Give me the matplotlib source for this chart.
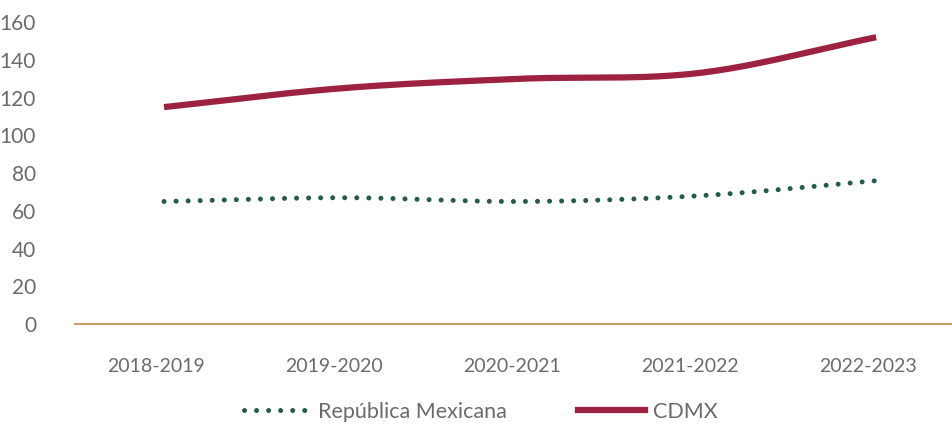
import numpy as np
import matplotlib
matplotlib.use("Agg")
import matplotlib.pyplot as plt
import matplotlib.transforms as mtransforms
from matplotlib.lines import Line2D

periods = ["2018-2019", "2019-2020", "2020-2021", "2021-2022", "2022-2023"]
rep_mex = [65, 67, 65, 68, 76]
cdmx = [115, 125, 130, 133, 152]

green = "#235B4E"
red = "#9D2242"
gold = "#C9A06C"
grey = "#6b6b6b"

plt.rcParams["font.family"] = ["Lato", "DejaVu Sans"]


def smooth(xs, ys, n=40):
    # Catmull-Rom curve through the points (like a spreadsheet "smoothed line")
    xs = np.asarray(xs, float)
    ys = np.asarray(ys, float)
    px = np.concatenate([[2 * xs[0] - xs[1]], xs, [2 * xs[-1] - xs[-2]]])
    py = np.concatenate([[2 * ys[0] - ys[1]], ys, [2 * ys[-1] - ys[-2]]])
    outx, outy = [], []
    t = np.linspace(0, 1, n)
    for i in range(1, len(px) - 2):
        for p, out in ((px, outx), (py, outy)):
            p0, p1, p2, p3 = p[i - 1], p[i], p[i + 1], p[i + 2]
            seg = 0.5 * (2 * p1 + (-p0 + p2) * t
                         + (2 * p0 - 5 * p1 + 4 * p2 - p3) * t ** 2
                         + (-p0 + 3 * p1 - 3 * p2 + p3) * t ** 3)
            out.extend(seg if i == 1 else seg[1:])
    return np.array(outx), np.array(outy)


fig = plt.figure(figsize=(9.52, 4.26), dpi=100)
ax = fig.add_axes([0.0788, 0.239, 0.935, 0.709])

x = np.arange(len(periods))
gx, gy = smooth(x, rep_mex)
rx, ry = smooth(x, cdmx)

ax.plot(gx, gy, color=green, linewidth=3.6, linestyle=(0, (0.01, 2.4)),
        dash_capstyle="round", zorder=3)
ax.plot(rx, ry, color=red, linewidth=4.5, solid_capstyle="butt", zorder=3)

ax.set_xlim(-0.5, len(periods) - 0.5)
ax.set_ylim(0, 160)
ax.set_yticks(range(0, 161, 20))
ax.set_xticks(x)
ax.set_xticklabels(periods)
ax.tick_params(axis="x", length=0, labelsize=14, colors=grey, pad=24)
ax.tick_params(axis="y", length=0, labelsize=15, colors=grey, pad=28)

# category labels sit a little left of the data points in the original
shift = mtransforms.ScaledTranslation(-8 / 100, 0, fig.dpi_scale_trans)
for lab in ax.get_xticklabels():
    lab.set_transform(lab.get_transform() + shift)

for s in ["top", "right", "left"]:
    ax.spines[s].set_visible(False)
ax.spines["bottom"].set_color(gold)
ax.spines["bottom"].set_linewidth(1.5)

handles = [
    Line2D([], [], color=green, linewidth=3.6, linestyle=(0, (0.01, 2.4)),
           dash_capstyle="round"),
    Line2D([], [], color=red, linewidth=4.5),
]
fig.legend(handles, ["República Mexicana", "CDMX"], loc="lower center",
           bbox_to_anchor=(0.505, -0.035), ncol=2, frameon=False, fontsize=15.5,
           labelcolor=grey, handlelength=3.1, handletextpad=0.35,
           columnspacing=3.3)

fig.savefig("out.png", dpi=100)
